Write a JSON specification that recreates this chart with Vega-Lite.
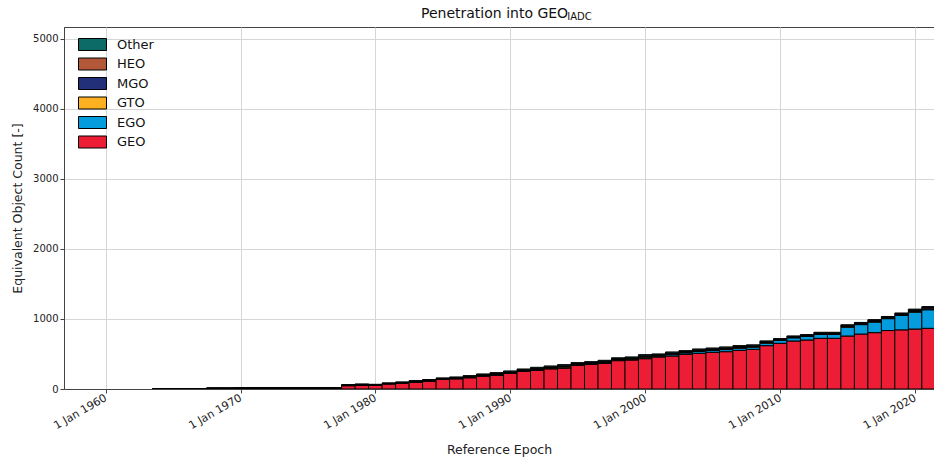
{
  "$schema": "https://vega.github.io/schema/vega-lite/v6.json",
  "autosize": {"type": "none"},
  "padding": {"left": 64, "top": 27, "right": 0, "bottom": 74},
  "width": 870,
  "height": 362,
  "background": "white",
  "config": {
    "font": "DejaVu Sans",
    "view": {"stroke": "#444", "strokeWidth": 1},
    "axis": {"labelFont": "DejaVu Sans", "titleFont": "DejaVu Sans", "labelColor": "#222", "titleColor": "#222", "titleFontWeight": "normal", "domainColor": "#444", "tickColor": "#444", "gridColor": "#d6d6d6", "gridWidth": 1}
  },
  "title": {
    "text": "Penetration into GEO",
    "subtitle": "\u200b\u00a0\u00a0\u00a0\u00a0\u00a0\u00a0\u00a0\u00a0\u00a0\u00a0\u00a0\u00a0\u00a0\u00a0\u00a0\u00a0\u00a0\u00a0\u00a0\u00a0\u00a0\u00a0\u00a0\u00a0\u00a0\u00a0\u00a0\u00a0\u00a0\u00a0\u00a0\u00a0\u00a0\u00a0\u00a0\u00a0\u00a0\u00a0\u00a0\u00a0\u00a0\u00a0\u00a0\u00a0\u00a0\u00a0IADC",
    "anchor": "start",
    "frame": "group",
    "dx": 357,
    "fontSize": 14,
    "fontWeight": "normal",
    "color": "#111",
    "subtitleFontSize": 10,
    "subtitleColor": "#111",
    "subtitlePadding": -9,
    "offset": 5
  },
  "data": {
    "values": [
      {"date": "1964-01-01", "GEO": 3, "EGO": 0, "GTO": 0, "MGO": 0, "HEO": 0, "Other": 0},
      {"date": "1965-01-01", "GEO": 3, "EGO": 0, "GTO": 0, "MGO": 0, "HEO": 0, "Other": 0},
      {"date": "1966-01-01", "GEO": 4, "EGO": 0, "GTO": 0, "MGO": 0, "HEO": 0, "Other": 0},
      {"date": "1967-01-01", "GEO": 7, "EGO": 0, "GTO": 0, "MGO": 0, "HEO": 0, "Other": 0},
      {"date": "1968-01-01", "GEO": 10, "EGO": 0, "GTO": 0, "MGO": 0, "HEO": 0, "Other": 0},
      {"date": "1969-01-01", "GEO": 10, "EGO": 0, "GTO": 0, "MGO": 0, "HEO": 0, "Other": 0},
      {"date": "1970-01-01", "GEO": 11, "EGO": 0, "GTO": 0, "MGO": 0, "HEO": 0, "Other": 0},
      {"date": "1971-01-01", "GEO": 12, "EGO": 0, "GTO": 0, "MGO": 0, "HEO": 0, "Other": 0},
      {"date": "1972-01-01", "GEO": 18, "EGO": 0, "GTO": 0, "MGO": 0, "HEO": 0, "Other": 0},
      {"date": "1973-01-01", "GEO": 12, "EGO": 0, "GTO": 0, "MGO": 0, "HEO": 0, "Other": 0},
      {"date": "1974-01-01", "GEO": 12, "EGO": 0, "GTO": 0, "MGO": 0, "HEO": 0, "Other": 0},
      {"date": "1975-01-01", "GEO": 12, "EGO": 0, "GTO": 0, "MGO": 0, "HEO": 0, "Other": 0},
      {"date": "1976-01-01", "GEO": 12, "EGO": 0, "GTO": 0, "MGO": 0, "HEO": 0, "Other": 0},
      {"date": "1977-01-01", "GEO": 12, "EGO": 0, "GTO": 0, "MGO": 0, "HEO": 0, "Other": 0},
      {"date": "1978-01-01", "GEO": 48, "EGO": 0, "GTO": 4, "MGO": 3, "HEO": 1, "Other": 6},
      {"date": "1979-01-01", "GEO": 52, "EGO": 0, "GTO": 6, "MGO": 5, "HEO": 2, "Other": 7},
      {"date": "1980-01-01", "GEO": 52, "EGO": 0, "GTO": 4, "MGO": 4, "HEO": 1, "Other": 6},
      {"date": "1981-01-01", "GEO": 74, "EGO": 0, "GTO": 3, "MGO": 3, "HEO": 1, "Other": 5},
      {"date": "1982-01-01", "GEO": 81, "EGO": 0, "GTO": 6, "MGO": 5, "HEO": 2, "Other": 7},
      {"date": "1983-01-01", "GEO": 95, "EGO": 0, "GTO": 7, "MGO": 6, "HEO": 2, "Other": 10},
      {"date": "1984-01-01", "GEO": 114, "EGO": 0, "GTO": 6, "MGO": 5, "HEO": 2, "Other": 7},
      {"date": "1985-01-01", "GEO": 138, "EGO": 0, "GTO": 6, "MGO": 5, "HEO": 2, "Other": 7},
      {"date": "1986-01-01", "GEO": 147, "EGO": 0, "GTO": 7, "MGO": 6, "HEO": 2, "Other": 10},
      {"date": "1987-01-01", "GEO": 162, "EGO": 0, "GTO": 8, "MGO": 7, "HEO": 3, "Other": 11},
      {"date": "1988-01-01", "GEO": 186, "EGO": 0, "GTO": 8, "MGO": 7, "HEO": 3, "Other": 11},
      {"date": "1989-01-01", "GEO": 200, "EGO": 0, "GTO": 10, "MGO": 8, "HEO": 3, "Other": 13},
      {"date": "1990-01-01", "GEO": 224, "EGO": 0, "GTO": 10, "MGO": 8, "HEO": 3, "Other": 13},
      {"date": "1991-01-01", "GEO": 257, "EGO": 0, "GTO": 8, "MGO": 7, "HEO": 3, "Other": 11},
      {"date": "1992-01-01", "GEO": 271, "EGO": 0, "GTO": 11, "MGO": 10, "HEO": 4, "Other": 14},
      {"date": "1993-01-01", "GEO": 290, "EGO": 0, "GTO": 11, "MGO": 10, "HEO": 4, "Other": 14},
      {"date": "1994-01-01", "GEO": 300, "EGO": 2, "GTO": 14, "MGO": 11, "HEO": 4, "Other": 17},
      {"date": "1995-01-01", "GEO": 338, "EGO": 5, "GTO": 10, "MGO": 8, "HEO": 3, "Other": 13},
      {"date": "1996-01-01", "GEO": 352, "EGO": 5, "GTO": 10, "MGO": 8, "HEO": 3, "Other": 13},
      {"date": "1997-01-01", "GEO": 367, "EGO": 5, "GTO": 11, "MGO": 9, "HEO": 4, "Other": 14},
      {"date": "1998-01-01", "GEO": 405, "EGO": 8, "GTO": 10, "MGO": 8, "HEO": 3, "Other": 12},
      {"date": "1999-01-01", "GEO": 414, "EGO": 10, "GTO": 10, "MGO": 8, "HEO": 3, "Other": 13},
      {"date": "2000-01-01", "GEO": 433, "EGO": 12, "GTO": 14, "MGO": 11, "HEO": 4, "Other": 17},
      {"date": "2001-01-01", "GEO": 457, "EGO": 12, "GTO": 9, "MGO": 8, "HEO": 3, "Other": 12},
      {"date": "2002-01-01", "GEO": 471, "EGO": 20, "GTO": 11, "MGO": 9, "HEO": 4, "Other": 14},
      {"date": "2003-01-01", "GEO": 495, "EGO": 20, "GTO": 10, "MGO": 8, "HEO": 3, "Other": 12},
      {"date": "2004-01-01", "GEO": 510, "EGO": 25, "GTO": 11, "MGO": 9, "HEO": 4, "Other": 13},
      {"date": "2005-01-01", "GEO": 524, "EGO": 25, "GTO": 11, "MGO": 9, "HEO": 4, "Other": 13},
      {"date": "2006-01-01", "GEO": 533, "EGO": 30, "GTO": 11, "MGO": 9, "HEO": 4, "Other": 14},
      {"date": "2007-01-01", "GEO": 552, "EGO": 30, "GTO": 11, "MGO": 9, "HEO": 4, "Other": 14},
      {"date": "2008-01-01", "GEO": 567, "EGO": 30, "GTO": 10, "MGO": 8, "HEO": 3, "Other": 13},
      {"date": "2009-01-01", "GEO": 619, "EGO": 35, "GTO": 10, "MGO": 8, "HEO": 3, "Other": 12},
      {"date": "2010-01-01", "GEO": 653, "EGO": 40, "GTO": 8, "MGO": 6, "HEO": 3, "Other": 10},
      {"date": "2011-01-01", "GEO": 686, "EGO": 45, "GTO": 8, "MGO": 6, "HEO": 3, "Other": 10},
      {"date": "2012-01-01", "GEO": 700, "EGO": 50, "GTO": 8, "MGO": 6, "HEO": 3, "Other": 10},
      {"date": "2013-01-01", "GEO": 724, "EGO": 55, "GTO": 9, "MGO": 8, "HEO": 3, "Other": 11},
      {"date": "2014-01-01", "GEO": 724, "EGO": 55, "GTO": 9, "MGO": 8, "HEO": 3, "Other": 11},
      {"date": "2015-01-01", "GEO": 757, "EGO": 125, "GTO": 10, "MGO": 9, "HEO": 4, "Other": 13},
      {"date": "2016-01-01", "GEO": 785, "EGO": 135, "GTO": 9, "MGO": 8, "HEO": 3, "Other": 11},
      {"date": "2017-01-01", "GEO": 805, "EGO": 150, "GTO": 10, "MGO": 9, "HEO": 4, "Other": 13},
      {"date": "2018-01-01", "GEO": 835, "EGO": 170, "GTO": 9, "MGO": 8, "HEO": 3, "Other": 11},
      {"date": "2019-01-01", "GEO": 845, "EGO": 205, "GTO": 10, "MGO": 12, "HEO": 4, "Other": 10},
      {"date": "2020-01-01", "GEO": 857, "EGO": 240, "GTO": 10, "MGO": 18, "HEO": 4, "Other": 12},
      {"date": "2021-01-01", "GEO": 867, "EGO": 265, "GTO": 10, "MGO": 20, "HEO": 4, "Other": 11}
    ]
  },
  "transform": [
    {"fold": ["GEO", "EGO", "GTO", "MGO", "HEO", "Other"], "as": ["orbit", "count"]},
    {"calculate": "indexof(['GEO', 'EGO', 'GTO', 'MGO', 'HEO', 'Other'], datum.orbit)", "as": "stackRank"}
  ],
  "mark": {"type": "bar", "size": 13.65, "stroke": "black", "strokeWidth": 1, "clip": true, "opacity": 1},
  "encoding": {
    "x": {
      "field": "date",
      "type": "temporal",
      "scale": {"domain": [{"year": 1957, "month": 4, "date": 16}, {"year": 2021, "month": 1, "date": 10}]},
      "axis": {
        "title": "Reference Epoch",
        "titleFontSize": 12.5,
        "titlePadding": 13,
        "values": [{"year": 1960, "month": 1, "date": 1}, {"year": 1970, "month": 1, "date": 1}, {"year": 1980, "month": 1, "date": 1}, {"year": 1990, "month": 1, "date": 1}, {"year": 2000, "month": 1, "date": 1}, {"year": 2010, "month": 1, "date": 1}, {"year": 2020, "month": 1, "date": 1}],
        "format": "%-d %b %Y",
        "labelAngle": -30,
        "labelAlign": "right",
        "labelBaseline": "middle",
        "labelFontSize": 11,
        "labelPadding": 4,
        "labelDx": -5,
        "tickSize": 4,
        "grid": true
      }
    },
    "y": {
      "field": "count",
      "type": "quantitative",
      "stack": "zero",
      "scale": {"domain": [0, 5171], "nice": false},
      "axis": {
        "title": "Equivalent Object Count [-]",
        "titleFontSize": 12.5,
        "titlePadding": 8,
        "values": [0, 1000, 2000, 3000, 4000, 5000],
        "format": "d",
        "labelFontSize": 10,
        "tickSize": 4,
        "grid": true
      }
    },
    "order": {"field": "stackRank", "type": "quantitative", "sort": "ascending"},
    "color": {
      "field": "orbit",
      "type": "nominal",
      "sort": ["Other", "HEO", "MGO", "GTO", "EGO", "GEO"],
      "scale": {"domain": ["Other", "HEO", "MGO", "GTO", "EGO", "GEO"], "range": ["#0c6b66", "#b3593a", "#22307a", "#fdb021", "#049cdc", "#ee1d36"]},
      "legend": {
        "title": null,
        "orient": "none",
        "legendX": 22,
        "legendY": 11,
        "symbolType": "M-2.333,-1H2.333V1H-2.333Z",
        "symbolSize": 144,
        "symbolStrokeColor": "black",
        "symbolStrokeWidth": 1,
        "symbolOpacity": 1,
        "labelFontSize": 13,
        "labelFont": "DejaVu Sans",
        "labelColor": "#111",
        "labelOffset": 18,
        "rowPadding": 2.5,
        "padding": 0
      }
    }
  }
}
